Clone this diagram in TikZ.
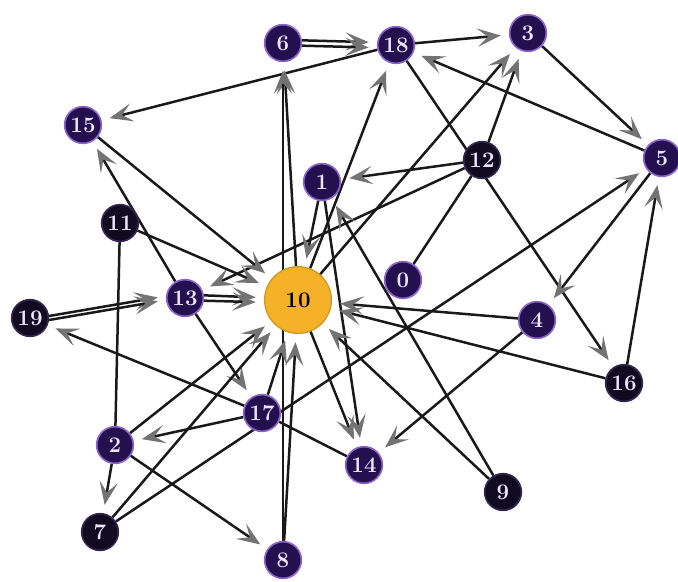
\documentclass[tikz,border=0pt]{standalone}
\usepackage{tikz}
\usetikzlibrary{arrows.meta,backgrounds}

\definecolor{vtxpurple}{HTML}{24104F}
\definecolor{vtxdark}{HTML}{100B1E}
\definecolor{vtxglow}{HTML}{8A64C8}
\definecolor{vtxtext}{HTML}{EDE3FF}
\definecolor{hubfill}{HTML}{F5B228}

\begin{document}
\begin{tikzpicture}[x=0.03cm, y=-0.03cm,
    vtx/.style={circle, draw=vtxglow, line width=0.5mm, fill=vtxpurple, text=vtxtext, minimum size=1.1cm, inner sep=0pt, font=\fontsize{19}{19}\selectfont\bfseries},
    vtxk/.style={vtx, fill=vtxdark, draw=vtxdark!70!vtxglow},
    hub/.style={circle, draw=hubfill!85!black, line width=0.4mm, fill=hubfill, text=black, minimum size=2cm, inner sep=0pt, font=\fontsize{19}{19}\selectfont\bfseries},
    edge/.style={line width=0.75mm, black!90, shorten >=2.5mm, -{Stealth[length=7mm, width=5.5mm, inset=3.2mm, color=black!55]}},
    link/.style={line width=0.75mm, black!90}]
  \useasboundingbox (0,0) rectangle (678,581);
  % vertices
  \node[hub] (n10) at (298,300) {10};
  \node[vtx] (n6) at (283,43) {6};
  \node[vtx] (n18) at (396,45) {18};
  \node[vtx] (n3) at (528,33) {3};
  \node[vtx] (n15) at (83,125) {15};
  \node[vtx] (n5) at (662,158) {5};
  \node[vtxk] (n12) at (482,160) {12};
  \node[vtx] (n1) at (322,182) {1};
  \node[vtxk] (n11) at (120,223) {11};
  \node[vtx] (n0) at (403,280) {0};
  \node[vtx] (n13) at (185,298) {13};
  \node[vtxk] (n19) at (30,318) {19};
  \node[vtx] (n4) at (537,320) {4};
  \node[vtxk] (n16) at (624,383) {16};
  \node[vtx] (n17) at (262,413) {17};
  \node[vtx] (n2) at (115,445) {2};
  \node[vtx] (n14) at (364,465) {14};
  \node[vtxk] (n9) at (503,492) {9};
  \node[vtxk] (n7) at (100,532) {7};
  \node[vtx] (n8) at (283,560) {8};
  % connectors
  \begin{scope}[on background layer]
    \foreach \a/\b in {18/15, 18/3, 3/5, 5/18, 18/16, 12/1, 12/3, 10/3, 12/13,
        10/18, 10/6, 8/6, 8/10, 15/10, 13/15, 11/10, 17/19, 13/17, 17/2, 2/7,
        2/8, 2/10, 7/10, 7/5, 17/10, 1/10, 1/14, 9/1, 9/10, 4/10, 4/14, 5/4,
        16/10, 16/5, 10/14}
      \draw[edge] (n\a) -- (n\b);
    % parallel pairs
    \draw[edge] (n6.8) -- (n18.172);
    \draw[edge] (n6.-8) -- (n18.188);
    \draw[edge] (n19.6) -- (n13.174);
    \draw[edge] (n19.-6) -- (n13.186);
    \draw[edge] (n13.8) -- (n10.176);
    \draw[edge] (n13.-8) -- (n10.184);
    % lines with no visible tip
    \draw[link] (n12) -- (n0);
    \draw[link] (n11) -- (n2);
    \draw[link] (n17) -- (n14);
  \end{scope}
\end{tikzpicture}
\end{document}
